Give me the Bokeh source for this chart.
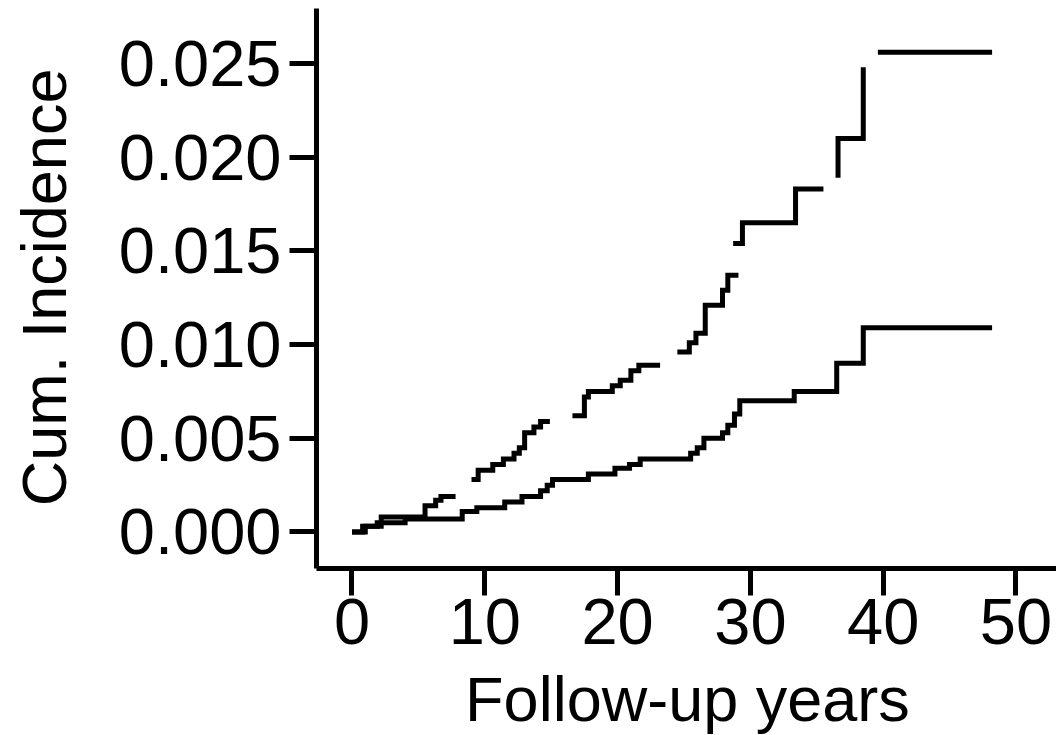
import math
from bokeh.plotting import figure
from bokeh.models import FixedTicker, Label, Range1d
from bokeh.embed import file_html
from bokeh.resources import INLINE

# ---------------- data ----------------
x_ticks = [0, 10, 20, 30, 40, 50]
y_ticks = [0.0, 0.005, 0.010, 0.015, 0.020, 0.025]
y_tick_labels = ["0.000", "0.005", "0.010", "0.015", "0.020", "0.025"]
x_label = "Follow-up years"
y_label = "Cum. Incidence"

# lower curve: jump times and cumulative incidence after each jump
lower_times = [0, 1.0, 1.9, 4.0, 8.3, 9.4, 11.5, 12.8, 14.2, 14.7, 15.1, 17.8,
               19.8, 20.9, 21.7, 25.5, 26.0, 26.5, 27.9, 28.3, 28.8, 29.2,
               33.3, 36.5, 38.5]
lower_values = [0, 0.0003, 0.0005, 0.0007, 0.0011, 0.0013, 0.0016, 0.0019,
                0.0022, 0.0025, 0.0028, 0.0031, 0.0034, 0.0036, 0.0039,
                0.0042, 0.0045, 0.0050, 0.0053, 0.0057, 0.0063, 0.0070,
                0.0075, 0.0090, 0.0109]
lower_end = 48.2

# upper curve, drawn in separate pieces
upper_seg1_times = [0, 0.8, 2.2, 5.5, 6.3, 6.7]
upper_seg1_values = [0, 0.0003, 0.0008, 0.0014, 0.0017, 0.0019]
upper_seg1_end = 7.8

upper_seg2_times = [9.0, 9.5, 10.6, 11.4, 12.2, 12.6, 13.0, 13.7, 14.2]
upper_seg2_values = [0.0028, 0.0033, 0.0036, 0.0039, 0.0042, 0.0045, 0.0053,
                     0.0056, 0.0059]
upper_seg2_end = 14.9

upper_seg3_times = [16.6, 17.5, 17.8, 19.6, 20.2, 21.0, 21.6]
upper_seg3_values = [0.0062, 0.0072, 0.0075, 0.0078, 0.0081, 0.0086, 0.0089]
upper_seg3_end = 23.2

upper_seg4_times = [24.5, 25.4, 25.9, 26.6, 27.9, 28.3]
upper_seg4_values = [0.0096, 0.0101, 0.0106, 0.0121, 0.0129, 0.0137]
upper_seg4_end = 29.1

upper_seg5_times = [28.7, 29.4, 33.4]
upper_seg5_values = [0.0154, 0.0165, 0.0183]
upper_seg5_end = 35.5

upper_seg6_times = [36.6, 36.6, 38.5]
upper_seg6_values = [0.0189, 0.0210, 0.0248]
upper_seg6_end = 38.5

upper_seg7_times = [39.6]
upper_seg7_values = [0.0256]
upper_seg7_end = 48.2


def step_path(times, values, end):
    xs = [times[0]]
    ys = [values[0]]
    for i in range(1, len(times)):
        xs += [times[i], times[i]]
        ys += [values[i - 1], values[i]]
    xs.append(end)
    ys.append(values[-1])
    return xs, ys


# ---------------- figure ----------------
FONT = "Liberation Sans"

p = figure(width=1056, height=735, output_backend="svg", toolbar_location=None,
           x_range=Range1d(-2.673, 53.05), y_range=Range1d(-0.001948, 0.027935),
           min_border_left=316, min_border_right=0, min_border_top=8,
           min_border_bottom=167)
p.outline_line_color = None
p.background_fill_color = "white"
p.border_fill_color = "white"
p.xgrid.visible = False
p.ygrid.visible = False

for ax in (p.xaxis[0], p.yaxis[0]):
    ax.axis_line_width = 5
    ax.axis_line_color = "black"
    ax.major_tick_line_width = 5
    ax.major_tick_line_color = "black"
    ax.major_tick_out = 27
    ax.major_tick_in = 0
    ax.minor_tick_line_color = None
    ax.major_label_text_font = FONT
    ax.major_label_text_font_size = "65px"
    ax.major_label_text_color = "black"

p.xaxis.ticker = FixedTicker(ticks=x_ticks)
p.yaxis.ticker = FixedTicker(ticks=y_ticks)
p.yaxis.major_label_overrides = {t: s for t, s in zip(y_ticks, y_tick_labels)}
p.xaxis.major_label_standoff = 3
p.yaxis.major_label_standoff = 8

lx, ly = step_path(lower_times, lower_values, lower_end)
p.line(lx, ly, line_color="black", line_width=5, line_join="miter", line_cap="butt")

upper_segments = [
    (upper_seg1_times, upper_seg1_values, upper_seg1_end),
    (upper_seg2_times, upper_seg2_values, upper_seg2_end),
    (upper_seg3_times, upper_seg3_values, upper_seg3_end),
    (upper_seg4_times, upper_seg4_values, upper_seg4_end),
    (upper_seg5_times, upper_seg5_values, upper_seg5_end),
    (upper_seg6_times, upper_seg6_values, upper_seg6_end),
    (upper_seg7_times, upper_seg7_values, upper_seg7_end),
]
for t, v, e in upper_segments:
    sx, sy = step_path(t, v, e)
    p.line(sx, sy, line_color="black", line_width=5, line_join="miter", line_cap="butt")

p.add_layout(Label(x=25.26, y=-0.008938, text=x_label, text_font=FONT,
                   text_font_size="63px", text_align="center",
                   text_baseline="alphabetic", text_color="black"), "below")
p.add_layout(Label(x=-23.23, y=0.01305, text=y_label, text_font=FONT,
                   text_font_size="63px", text_align="center",
                   text_baseline="alphabetic", angle=math.pi / 2,
                   text_color="black"), "left")

open("out.html", "w").write(file_html(p, INLINE))
